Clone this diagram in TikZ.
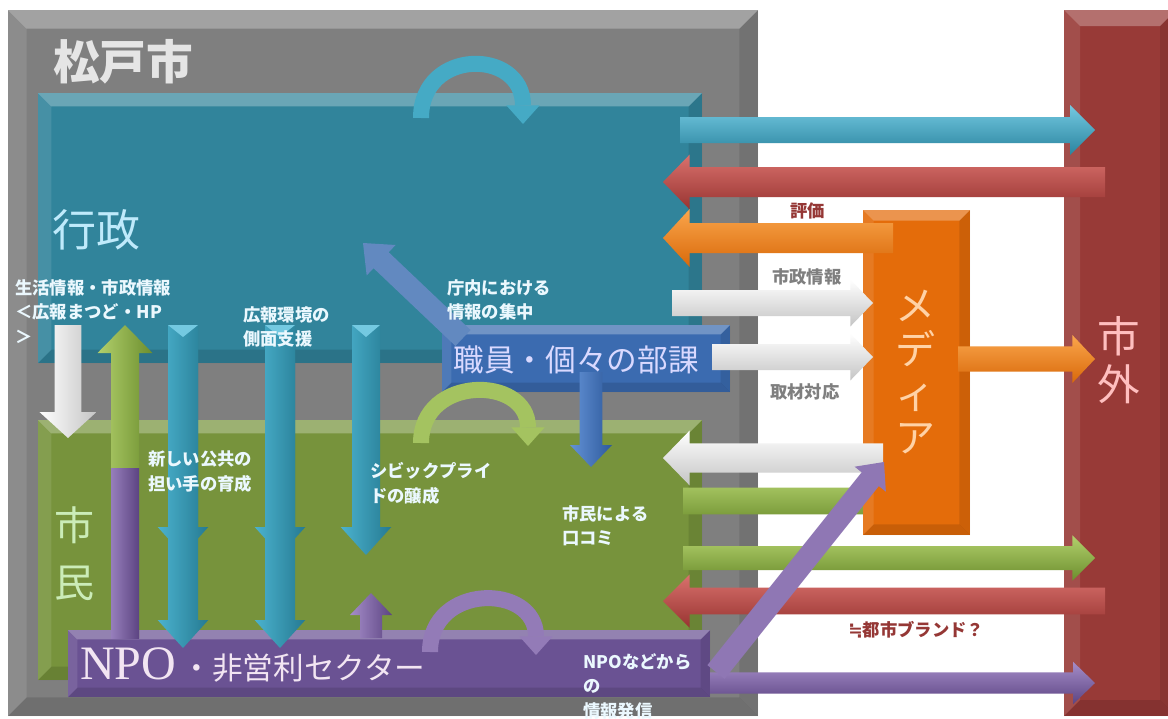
\documentclass[tikz,border=0pt]{standalone}
\usepackage{fontspec}
\usetikzlibrary{calc,fit,arrows.meta}
\newfontfamily\jpfont{Noto Sans CJK JP}
\newfontfamily\npofont{Liberation Serif}
\newfontfamily\symfont{DejaVu Sans}

\definecolor{cgray}{HTML}{7F7F7F}
\definecolor{cteal}{HTML}{31849B}
\definecolor{cgreen}{HTML}{77933C}
\definecolor{cpurple}{HTML}{6A5293}
\definecolor{cblue}{HTML}{3B6BB0}
\definecolor{corange}{HTML}{E46C0A}
\definecolor{cred}{HTML}{983A37}
\definecolor{tealL}{HTML}{74C9E1}
\definecolor{tealD}{HTML}{2A849F}
\definecolor{redL}{HTML}{D9716D}
\definecolor{redD}{HTML}{983431}
\definecolor{orL}{HTML}{FAA64C}
\definecolor{orD}{HTML}{D9690A}
\definecolor{whL}{HTML}{FFFFFF}
\definecolor{whD}{HTML}{C4C4C4}
\definecolor{grL}{HTML}{B2D06C}
\definecolor{grD}{HTML}{6C8E2E}
\definecolor{puL}{HTML}{A58DC9}
\definecolor{puD}{HTML}{5C4482}
\definecolor{blL}{HTML}{6392D6}
\definecolor{blD}{HTML}{2E5A9C}
\definecolor{tvL}{HTML}{4BB2CE}
\definecolor{tvD}{HTML}{257A92}
\definecolor{txtred}{HTML}{953735}
\definecolor{txtgray}{HTML}{7F7F7F}

\tikzset{
  box/.style={fill=#1, draw=none, inner sep=0pt, outer sep=0pt, rectangle},
  bevel/.style={path picture={
    \fill[white,opacity=.28] (path picture bounding box.north west) -- (path picture bounding box.north east)
      -- ([shift={(-#1,-#1)}]path picture bounding box.north east) -- ([shift={(#1,-#1)}]path picture bounding box.north west) -- cycle;
    \fill[white,opacity=.10] (path picture bounding box.north west) -- ([shift={(#1,-#1)}]path picture bounding box.north west)
      -- ([shift={(#1,#1)}]path picture bounding box.south west) -- (path picture bounding box.south west) -- cycle;
    \fill[black,opacity=.10] (path picture bounding box.north east) -- ([shift={(-#1,-#1)}]path picture bounding box.north east)
      -- ([shift={(-#1,#1)}]path picture bounding box.south east) -- (path picture bounding box.south east) -- cycle;
    \fill[black,opacity=.12] (path picture bounding box.south west) -- ([shift={(#1,#1)}]path picture bounding box.south west)
      -- ([shift={(-#1,#1)}]path picture bounding box.south east) -- (path picture bounding box.south east) -- cycle;
  }},
  bevel/.default=8pt,
  hsh/.style 2 args={top color=#1, bottom color=#2, draw=none},
  vsh/.style 2 args={left color=#1, right color=#2, draw=none},
  curvarrow/.style={line width=12pt, draw=#1, -{Triangle[length=14pt, width=25pt, line width=0pt]}},
  lbl/.style={font=\jpfont\bfseries\fontsize{13}{18.5}\selectfont, anchor=north west, inner sep=0pt, align=left, text=#1},
  lbl/.default={white!92!cyan},
}

\newcommand\blockarrow[6]{%
  \coordinate (ba-b) at ($(#3)!#6!(#2)$);
  \path[#1] ($(#2)!#4!90:(#3)$) -- ($(ba-b)!#4!90:(#3)$) -- ($(ba-b)!#5!90:(#3)$) -- (#3)
    -- ($(ba-b)!#5!-90:(#3)$) -- ($(ba-b)!#4!-90:(#3)$) -- ($(#2)!#4!-90:(#3)$) -- cycle;
}

\begin{document}
\begin{tikzpicture}[x=0.75pt,y=-0.75pt]
\useasboundingbox (0,0) rectangle (1168,718);
\fill[white] (0,0) rectangle (1168,718);

% main boxes
\node[box=cgray, bevel=14pt, fit={(8,10) (758,716)}] (city) {};
\node[box=cred, bevel=12pt, fit={(1064,10) (1176,716)}] (shigai) {};
\node[box=cteal, bevel=10pt, fit={(38,93) (702,363)}] (gyosei) {};
\node[box=cgreen, bevel=10pt, fit={(38,420) (702,680)}] (shimin) {};

% green short arrow (under media box)
\coordinate (g1s) at (683,501); \coordinate (g1e) at (895,501);
\blockarrow{hsh={grL}{grD}}{g1s}{g1e}{10pt}{18.75pt}{17pt}

\node[box=corange, bevel=8pt, fit={(863,210) (970,535)}] (media) {};
\node[box=cpurple, bevel=7pt, fit={(68,630) (710,697)}] (npo) {};
\node[box=cblue, bevel=7pt, fit={(442,325) (730,392)}] (shokuin) {};

% vertical teal arrows
\coordinate (ta) at (183,325); \coordinate (ta1) at (183,555); \coordinate (ta2) at (183,648);
\coordinate (tb) at (280,325); \coordinate (tb1) at (280,555); \coordinate (tb2) at (280,648);
\coordinate (tc) at (366,325); \coordinate (tc1) at (366,555);
\blockarrow{vsh={tvL}{tvD}}{ta}{ta2}{11.25pt}{19pt}{21pt}
\blockarrow{vsh={tvL}{tvD}}{ta}{ta1}{11.25pt}{19pt}{21pt}
\blockarrow{vsh={tvL}{tvD}}{tb}{tb2}{11.25pt}{19pt}{21pt}
\blockarrow{vsh={tvL}{tvD}}{tb}{tb1}{11.25pt}{19pt}{21pt}
\blockarrow{vsh={tvL}{tvD}}{tc}{tc1}{10.5pt}{19pt}{21pt}
\fill[tealL] (168,325) -- (198,325) -- (183,337) -- cycle;
\fill[tealL] (265,325) -- (295,325) -- (280,337) -- cycle;
\fill[tealL] (352,325) -- (380,325) -- (366,337) -- cycle;

% white down arrow
\coordinate (ws) at (68,325); \coordinate (we) at (68,438);
\blockarrow{vsh={whL}{whD}}{ws}{we}{10pt}{21.4pt}{19.5pt}

% green / purple up arrow
\coordinate (us) at (125,638); \coordinate (ue) at (125,325);
\blockarrow{vsh={grL}{grD}}{us}{ue}{10.5pt}{20.6pt}{21pt}
\fill[left color=puL!80!puD, right color=puD] (111,468) rectangle (139,638);

% small purple up arrow
\coordinate (ps) at (371,638); \coordinate (pe) at (371,593);
\blockarrow{vsh={puL}{puD}}{ps}{pe}{8.25pt}{15.75pt}{16.5pt}

% blue arrows
\coordinate (bds) at (463,338); \coordinate (bde) at (363,243);
\blockarrow{fill=cblue!80!white}{bds}{bde}{8.25pt}{15.75pt}{18.75pt}
\coordinate (bvs) at (591,372); \coordinate (bve) at (591,467);
\blockarrow{vsh={blL}{blD}}{bvs}{bve}{8.6pt}{15.75pt}{16.5pt}

% curved arrows
\coordinate (c1a) at (421,118); \coordinate (c1b) at (523,124);
\draw[curvarrow=tvL!85!tvD] (c1a) .. controls (421,48) and (523,48) .. (c1b);
\coordinate (c2a) at (421,443); \coordinate (c2b) at (528,446);
\draw[curvarrow=grL!80!grD] (c2a) .. controls (421,375) and (528,375) .. (c2b);
\coordinate (c3a) at (430,652); \coordinate (c3b) at (536,655);
\draw[curvarrow=puL!75!puD] (c3a) .. controls (430,583) and (536,583) .. (c3b);

% horizontal arrows
\coordinate (h1s) at (680,130); \coordinate (h1e) at (1095,130);
\blockarrow{hsh={tealL}{tealD}}{h1s}{h1e}{9.75pt}{18.75pt}{18.75pt}
\coordinate (h2s) at (1105,182); \coordinate (h2e) at (663,182);
\blockarrow{hsh={redL}{redD}}{h2s}{h2e}{11.25pt}{20.6pt}{20pt}
\coordinate (h3s) at (893,238); \coordinate (h3e) at (663,238);
\blockarrow{hsh={orL}{orD}}{h3s}{h3e}{11.25pt}{21.75pt}{20pt}
\coordinate (h4s) at (672,303); \coordinate (h4e) at (873,303);
\blockarrow{hsh={whL}{whD}}{h4s}{h4e}{9.75pt}{17.6pt}{17pt}
\coordinate (h5s) at (712,357); \coordinate (h5e) at (873,357);
\blockarrow{hsh={whL}{whD}}{h5s}{h5e}{9.75pt}{17.6pt}{17pt}
\coordinate (h6s) at (958,359); \coordinate (h6e) at (1095,359);
\blockarrow{hsh={orL}{orD}}{h6s}{h6e}{9.4pt}{18pt}{17pt}
\coordinate (h7s) at (883,458); \coordinate (h7e) at (663,458);
\blockarrow{hsh={whL}{whD}}{h7s}{h7e}{10.9pt}{20.6pt}{20pt}
\coordinate (h9s) at (683,558); \coordinate (h9e) at (1095,558);
\blockarrow{hsh={grL}{grD}}{h9s}{h9e}{9pt}{17pt}{17pt}
\coordinate (h10s) at (1105,601); \coordinate (h10e) at (663,601);
\blockarrow{hsh={redL}{redD}}{h10s}{h10e}{10pt}{20pt}{20pt}
\coordinate (h11s) at (710,683); \coordinate (h11e) at (1095,683);
\blockarrow{hsh={puL}{puD}}{h11s}{h11e}{8pt}{16pt}{16.5pt}

% purple diagonal arrow
\coordinate (dgs) at (716,672); \coordinate (dge) at (884,462);
\blockarrow{fill=puL!70!puD}{dgs}{dge}{8.25pt}{15pt}{16.5pt}

% big labels
\node[font=\jpfont\bfseries\fontsize{35}{35}\selectfont, text=white!90!black, anchor=west, inner sep=0pt] (tcity) at (53,62) {松戸市};
\node[font=\jpfont\fontsize{33}{33}\selectfont, text=cyan!25!white, anchor=west, inner sep=0pt] (tgyosei) at (52,230) {行政};
\node[font=\jpfont\fontsize{30}{43}\selectfont, text=green!15!white!85!olive, align=center, inner sep=0pt] (tshimin) at (75,554) {市\\民};
\node[inner sep=0pt, anchor=west, text=violet!10!white] (tnpo) at (80,665) {\npofont\fontsize{36}{36}\selectfont NPO\jpfont\fontsize{23}{23}\selectfont\,・非営利セクター};
\node[font=\jpfont\fontsize{23}{23}\selectfont, text=blue!15!white, inner sep=0pt] (tshokuin) at (576,360) {職員・個々の部課};
\node[font=\jpfont\fontsize{30}{33}\selectfont, text=orange!35!white, align=center, inner sep=0pt] (tmedia) at (915,372) {メ\\デ\\ィ\\ア};
\node[font=\jpfont\fontsize{32}{36}\selectfont, text=red!25!white, align=center, inner sep=0pt] (tshigai) at (1119,360) {市\\外};

% small labels
\node[lbl] (l1) at (15,279) {生活情報・市政情報\\＜広報まつど・HP\\＞};
\node[lbl] (l2) at (243,306) {広報環境の\\側面支援};
\node[lbl] (l3) at (447,279) {庁内における\\情報の集中};
\node[lbl] (l4) at (148,451) {新しい公共の\\担い手の育成};
\node[lbl] (l5) at (370,462) {シビックプライ\\ドの醸成};
\node[lbl] (l6) at (562,505) {市民による\\口コミ};
\node[lbl] (l7) at (583,653) {NPOなどから\\の\\情報発信};
\node[lbl=txtred] (l8) at (790,202) {評価};
\node[lbl=txtgray] (l9) at (772,268) {市政情報};
\node[lbl=txtgray] (l10) at (770,383) {取材対応};
\node[lbl=txtred] (l11) at (848,621) {{\symfont\bfseries ≒}都市ブランド？};
\end{tikzpicture}
\end{document}
